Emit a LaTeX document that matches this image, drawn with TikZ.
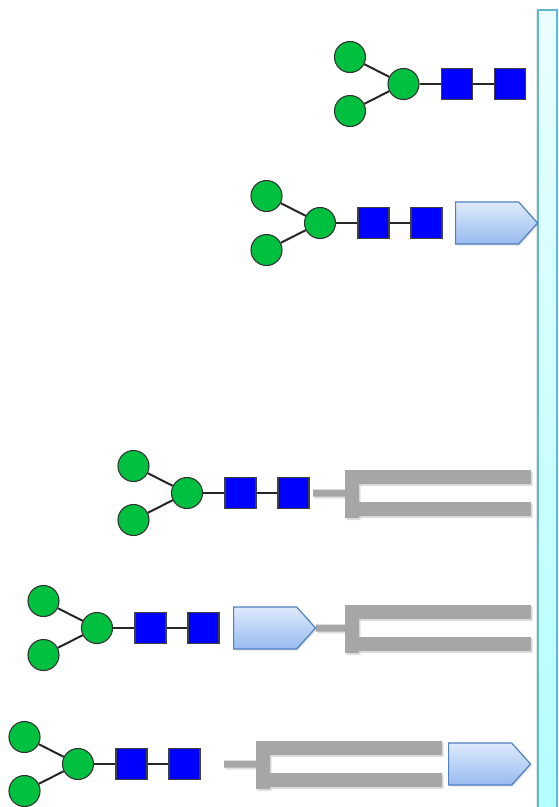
\documentclass[tikz,border=0pt]{standalone}
\usetikzlibrary{shapes.symbols,shadows}
\definecolor{glcgreen}{RGB}{0,192,64}
\definecolor{glcblue}{RGB}{0,0,255}
\definecolor{lipgray}{RGB}{166,166,166}
\definecolor{protedge}{RGB}{79,129,189}
\definecolor{prottop}{RGB}{222,234,252}
\definecolor{protbot}{RGB}{152,187,240}
\definecolor{memedge}{RGB}{95,185,210}
\tikzset{
  gal/.style={circle,draw=black!80,line width=1.1pt,fill=glcgreen,minimum size=31pt,inner sep=0pt},
  glcnac/.style={rectangle,draw=black!75,line width=1.1pt,fill=glcblue,minimum size=31pt,inner sep=0pt},
  bond/.style={draw=black!85,line width=2pt},
  bondh/.style={draw=black!85,line width=1.3pt},
  protein/.style={signal,signal to=east,signal pointer angle=96,draw=protedge,line width=1.2pt,
     top color=prottop,bottom color=protbot,minimum width=82pt,minimum height=42pt,inner sep=0pt,anchor=west,
     drop shadow={shadow xshift=1.5pt,shadow yshift=-1.5pt,opacity=0.2}},
  lipid/.style={fill=lipgray,drop shadow={shadow xshift=1.5pt,shadow yshift=-2pt,opacity=0.25}},
  membrane/.style={draw=memedge,line width=1.3pt,top color=cyan!8!white,bottom color=cyan!30!white,
     drop shadow={shadow xshift=-2pt,shadow yshift=0pt,opacity=0.2}}
}
\newcommand{\glyc}[3]{%
  \begin{scope}[shift={(#2,#3)}]
    \node[gal] (#1m) at (0,0) {};
    \node[gal] (#1t) at (-53.5,-27) {};
    \node[gal] (#1b) at (-53.5,27) {};
    \node[glcnac] (#1s) at (53.5,0) {};
    \node[glcnac] (#1r) at (106.5,0) {};
  \end{scope}
  \draw[bond] (#1t) -- (#1m);
  \draw[bond] (#1b) -- (#1m);
  \draw[bondh] (#1m) -- (#1s);
  \draw[bondh] (#1s) -- (#1r);
}
% #1 stem start x, #2 bar x, #3 tail end x, #4 centre y
\newcommand{\lipidshape}[4]{%
  \path[lipid] (#1,#4-3.5) rectangle (#2+2,#4+3.5)
     (#2,#4-23) rectangle (#2+14,#4+25)
     (#2,#4-23) rectangle (#3,#4-9)
     (#2,#4+9) rectangle (#3,#4+23);
}
\begin{document}
\begin{tikzpicture}[x=1pt,y=-1pt]
\useasboundingbox (0,0) rectangle (559,807);
\fill[white] (0,0) rectangle (559,807);
% membrane
\path[membrane] (538,10) rectangle (557,830);
% glycan 1
\glyc{a}{403.5}{84}
% glycan 2 + protein
\glyc{b}{320}{223}
\node[protein] (bp) at (455,223) {};
% glycan 3 + lipid
\glyc{c}{187}{493}
\lipidshape{313}{345}{531}{493}
% glycan 4 + protein + lipid
\glyc{d}{97}{628}
\lipidshape{316}{345}{531}{628}
\node[protein] (dp) at (233,628) {};
% glycan 5 + lipid + protein
\glyc{e}{78}{764}
\lipidshape{224}{256}{442}{764}
\node[protein] (ep) at (448,764) {};
\end{tikzpicture}
\end{document}
